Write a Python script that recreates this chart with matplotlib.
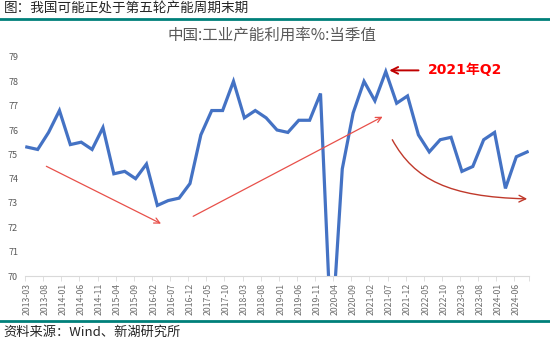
import matplotlib
matplotlib.use('Agg')
import matplotlib.pyplot as plt
from matplotlib.patches import FancyArrowPatch
from matplotlib.path import Path
import pandas as pd

plt.rcParams['font.family'] = ['Noto Sans CJK SC', 'DejaVu Sans']

### Data
# quarterly capacity utilisation, 2013Q1 .. 2024Q3
utilization = [75.3, 75.2, 75.9, 76.8,
               75.4, 75.5, 75.2, 76.1,
               74.2, 74.3, 74.0, 74.6,
               72.9, 73.1, 73.2, 73.8,
               75.8, 76.8, 76.8, 78.0,
               76.5, 76.8, 76.5, 76.0,
               75.9, 76.4, 76.4, 77.5,
               67.3, 74.4, 76.7, 78.0,
               77.2, 78.4, 77.1, 77.4,
               75.8, 75.1, 75.6, 75.7,
               74.3, 74.5, 75.6, 75.9,
               73.6, 74.9, 75.1]
quarter_ends = pd.date_range('2013-03-31', periods=len(utilization), freq='QE')
tick_dates = pd.date_range('2013-03-31', '2024-06-30', freq='5ME')
tick_labels = [d.strftime('%Y-%m') for d in tick_dates]

header = '图：我国可能正处于第五轮产能周期末期'
title = '中国:工业产能利用率%:当季值'
source = '资料来源：Wind、新湖研究所'
peak_label = '2021年Q2'

def month_index(d):
    '''months since 2013-03, used as x position'''
    return (d.year - 2013) * 12 + d.month - 3

x = [month_index(d) for d in quarter_ends]
xt = [month_index(d) for d in tick_dates]

### Plotting
fig = plt.figure(figsize=(5.5, 3.43), dpi=100)
ax = fig.add_axes([25/550, 1 - 276/343, 504/550, 219/343])

ax.plot(x, utilization, color='#4472C4', lw=2.3, solid_joinstyle='miter', clip_on=True)
ax.set_xlim(-0.5, 138.5)
ax.set_ylim(70, 79)
ax.set_yticks(range(70, 80))
ax.tick_params(axis='y', length=0, labelsize=6.5, labelcolor='#595959', pad=5)

ax.set_xticks(xt)
ax.set_xticklabels(tick_labels, rotation=90, fontsize=6.3, color='#6E6E6E')
ax.set_xticks([v - 0.5 for v in xt] + [138.5], minor=True)
ax.tick_params(axis='x', which='major', length=0, pad=5)
ax.tick_params(axis='x', which='minor', length=3.5, color='#D9D9D9')

for s in ('top', 'right', 'left'):
    ax.spines[s].set_visible(False)
ax.spines['bottom'].set_color('#D9D9D9')

fig.text(0.495, 1 - 35/343, title, ha='center', va='center', fontsize=11.2, color='#595959')

# arrows
ax.annotate('', xy=(37.7, 72.1), xytext=(4.7, 74.56),
            arrowprops=dict(arrowstyle='->', color='#E8504A', lw=0.9, mutation_scale=10))
ax.annotate('', xy=(98.8, 76.6), xytext=(45.2, 72.4),
            arrowprops=dict(arrowstyle='->', color='#E8504A', lw=0.9, mutation_scale=10))
ax.annotate('', xy=(99.2, 78.45), xytext=(108.8, 78.45),
            arrowprops=dict(arrowstyle='->', color='#C00000', lw=1.4, mutation_scale=12))
ax.text(110.5, 78.45, peak_label, color='#FF0000', fontsize=10, fontweight='bold',
        va='center', ha='left', family=['DejaVu Sans', 'Noto Sans CJK SC'])
# hand drawn looking decline curve (cubic bezier)
bend = Path([(100.8, 75.6), (106.9, 73.95), (116.5, 73.25), (138, 73.17)],
            [Path.MOVETO, Path.CURVE4, Path.CURVE4, Path.CURVE4])
curve = FancyArrowPatch(path=bend, arrowstyle='->', color='#C0392B', lw=1.0, mutation_scale=12)
ax.add_patch(curve)

# header / footer
fig.text(4/550, 1 - 9/343, header, ha='left', va='center', fontsize=9.8, color='#262626')
fig.add_artist(plt.Line2D([0, 1], [1 - 19/343] * 2, color='#00807A', lw=2))
fig.add_artist(plt.Line2D([0, 1], [1 - 321/343] * 2, color='#00807A', lw=2))
fig.text(3/550, 1 - 332/343, source, ha='left', va='center', fontsize=9.5, color='#262626')

fig.savefig('out.png', dpi=100)
